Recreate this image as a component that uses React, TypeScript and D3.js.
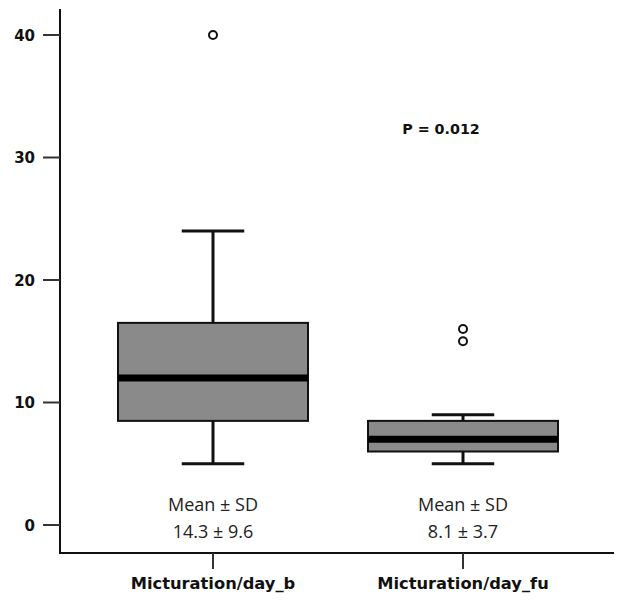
import React from 'react';
import * as d3 from 'd3';

const categories = ['Micturation/day_b', 'Micturation/day_fu'];
const whiskerLow = [5, 5];
const q1 = [8.5, 6];
const median = [12, 7];
const q3 = [16.5, 8.5];
const whiskerHigh = [24, 9];
const outliers = [[40], [15, 16]];
const meanSd = ['14.3 ± 9.6', '8.1 ± 3.7'];
const yTicks = [0, 10, 20, 30, 40];
const pText = 'P = 0.012';

const App = () => {
  const width = 622;
  const height = 600;

  // scales
  const y = d3.scaleLinear().domain([0, 40]).range([525, 35]);
  const x = d3.scaleBand().domain(categories).range([88, 588]);
  const boxW = x.bandwidth() * 0.76;
  const capW = x.bandwidth() * 0.25;
  const cx = (c: string) => (x(c) as number) + x.bandwidth() / 2;

  const axisX = 60;
  const axisY = 553;
  const boldFont = '"DejaVu Sans", sans-serif';

  return (
    <svg width={width} height={height} style={{ position: 'absolute', left: 0, top: 0, background: '#fff' }}>
      {/* y axis */}
      <line x1={axisX} x2={axisX} y1={9} y2={axisY} stroke="#111" strokeWidth={2} />
      {yTicks.map(t => (
        <g key={t}>
          <line x1={43} x2={axisX} y1={y(t)} y2={y(t)} stroke="#333" strokeWidth={2} />
          <text x={35} y={y(t)} dy="0.37em" textAnchor="end" fontFamily={boldFont} fontWeight="bold" fontSize={15} fill="#111">{t}</text>
        </g>
      ))}

      {/* x axis */}
      <line x1={axisX - 1} x2={614} y1={axisY} y2={axisY} stroke="#111" strokeWidth={2} />
      {categories.map(c => (
        <g key={c}>
          <line x1={cx(c)} x2={cx(c)} y1={axisY} y2={569} stroke="#333" strokeWidth={2} />
          <text x={cx(c)} y={589} textAnchor="middle" fontFamily={boldFont} fontWeight="bold" fontSize={16.3} fill="#111">{c}</text>
        </g>
      ))}

      {/* boxes */}
      {categories.map((c, i) => {
        const m = cx(c);
        return (
          <g key={'box' + c}>
            <line x1={m} x2={m} y1={y(whiskerHigh[i])} y2={y(q3[i])} stroke="#111" strokeWidth={3} />
            <line x1={m} x2={m} y1={y(q1[i])} y2={y(whiskerLow[i])} stroke="#111" strokeWidth={3} />
            <line x1={m - capW / 2} x2={m + capW / 2} y1={y(whiskerHigh[i])} y2={y(whiskerHigh[i])} stroke="#111" strokeWidth={3} />
            <line x1={m - capW / 2} x2={m + capW / 2} y1={y(whiskerLow[i])} y2={y(whiskerLow[i])} stroke="#111" strokeWidth={3} />
            <rect x={m - boxW / 2} y={y(q3[i])} width={boxW} height={y(q1[i]) - y(q3[i])} fill="#8a8a8a" stroke="#111" strokeWidth={2} />
            <line x1={m - boxW / 2} x2={m + boxW / 2} y1={y(median[i])} y2={y(median[i])} stroke="#000" strokeWidth={7} />
            {outliers[i].map((o, j) => (
              <circle key={j} cx={m} cy={y(o)} r={4} fill="#fff" stroke="#111" strokeWidth={2} />
            ))}
            <text x={m} y={511} textAnchor="middle" fontFamily='"Open Sans", sans-serif' fontSize={18} fill="#222">Mean ± SD</text>
            <text x={m} y={538} textAnchor="middle" fontFamily='"Open Sans", sans-serif' fontSize={18} fill="#222">{meanSd[i]}</text>
          </g>
        );
      })}

      <text x={441} y={134} textAnchor="middle" fontFamily={boldFont} fontWeight="bold" fontSize={14.3} fill="#111">{pText}</text>
    </svg>
  );
};

export default App;
